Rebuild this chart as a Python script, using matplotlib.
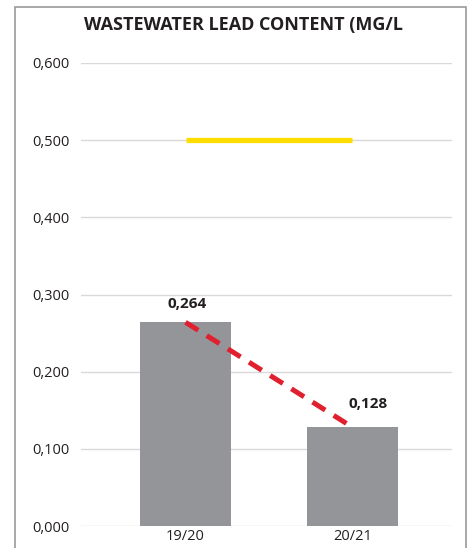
import matplotlib.pyplot as plt
from matplotlib.patches import Rectangle

# data
categories = ["19/20", "20/21"]
lead_mg_l = [0.264, 0.128]
limit_value = 0.500
y_ticks = [0.0, 0.1, 0.2, 0.3, 0.4, 0.5, 0.6]

plt.rcParams["font.family"] = ["Open Sans", "DejaVu Sans"]

W, H = 476, 548
fig = plt.figure(figsize=(W / 100, H / 100), dpi=100)
ax = fig.add_axes([81 / W, 1 - 526 / H, (452 - 81) / W, (526 - 63) / H])

# frame around the whole figure (bottom edge runs off the image)
fig.patches.append(Rectangle((15 / W, -0.05), (466 - 15) / W, 1.05 - 7 / H,
                             transform=fig.transFigure, fill=False,
                             edgecolor="#9a9a9a", linewidth=1.2))

x = list(range(len(categories)))
ax.bar(x, lead_mg_l, width=0.545, color="#939598", zorder=2)

# limit line and trend line
ax.plot(x, [limit_value] * len(x), color="#ffdd00", linewidth=3.8,
        solid_capstyle="butt", zorder=3)
ax.plot(x, lead_mg_l, color="#e0202f", linewidth=3.6, linestyle=(0, (3.0, 2.0)),
        zorder=4)

# value labels
offsets = [(1, 8), (11, 12)]
for xi, v, off in zip(x, lead_mg_l, offsets):
    ax.annotate(f"{v:.3f}".replace(".", ","), (xi, v), xytext=off,
                textcoords="offset points", ha="center", va="bottom",
                fontsize=11, fontweight="bold", color="#231f20")

ax.set_xlim(-0.626, 1.596)
ax.set_ylim(0, 0.6)
ax.set_yticks(y_ticks)
ax.set_yticklabels([f"{t:.3f}".replace(".", ",") for t in y_ticks])
ax.set_xticks(x)
ax.set_xticklabels(categories)
ax.tick_params(axis="both", length=0, labelsize=10.5, colors="#231f20")
ax.tick_params(axis="y", pad=8)
ax.tick_params(axis="x", pad=2)
ax.grid(axis="y", color="#d9d9d9", linewidth=1.0, zorder=0)
for s in ax.spines.values():
    s.set_visible(False)

fig.text(243 / W, 1 - 25 / H, "WASTEWATER LEAD CONTENT (MG/L", ha="center",
         va="center", fontsize=13, fontweight="bold", color="#231f20")

fig.savefig("out.png", dpi=100)
